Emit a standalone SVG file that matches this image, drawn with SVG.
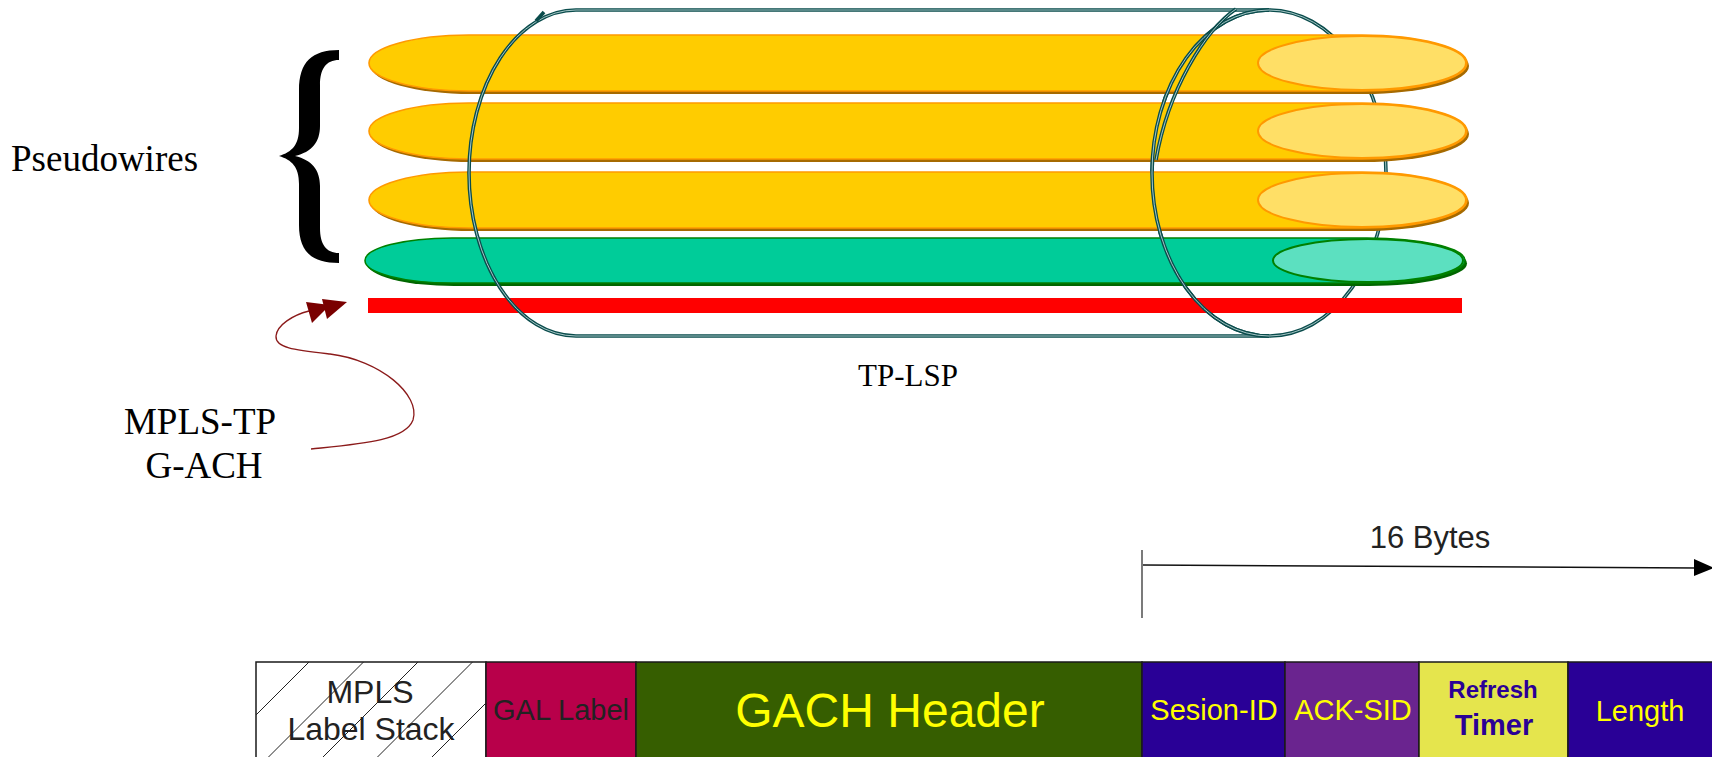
<svg xmlns="http://www.w3.org/2000/svg" width="1712" height="757" viewBox="0 0 1712 757">
<defs>
<style>
.pwY{fill:#FFCC00;stroke:#FF9900;stroke-width:1.6}
.pwYs{fill:#A66A00}
.capY{fill:#FFDF66;stroke:#FF9900;stroke-width:2}
.pwG{fill:#00CC99;stroke:#008000;stroke-width:1.6}
.pwGs{fill:#006600}
.capG{fill:#5CE0C0;stroke:#008000;stroke-width:2}
.dlo{fill:none;stroke:#0A4C4C;stroke-width:3.6}
.dli{fill:none;stroke:#CFE6E6;stroke-width:0.8}
.serif{font-family:"Liberation Serif","Times New Roman",serif;fill:#000}
.sans{font-family:"Liberation Sans",Arial,sans-serif}
.box{stroke:#1A1A1A;stroke-width:1.5}
.yel{fill:#FFFF00}
</style>
<clipPath id="hatchClip"><rect x="256" y="662" width="230" height="100"/></clipPath>
</defs>

<g id="lsp-back">
  <ellipse class="dlo" cx="1269" cy="173" rx="117" ry="163"/>
  <ellipse class="dli" cx="1269" cy="173" rx="117" ry="163"/>
</g>

<g id="pw1">
  <path class="pwYs" transform="translate(2,3)" d="M469,35 H1362 A105 28 0 0 1 1362,91 H469 A100 28 0 0 1 469,35 Z"/>
  <path class="pwY" d="M469,35 H1362 A105 28 0 0 1 1362,91 H469 A100 28 0 0 1 469,35 Z"/>
  <ellipse class="capY" cx="1362" cy="63" rx="104" ry="27"/>
</g>
<g id="pw2">
  <path class="pwYs" transform="translate(2,3)" d="M469,103 H1362 A105 28 0 0 1 1362,159 H469 A100 28 0 0 1 469,103 Z"/>
  <path class="pwY" d="M469,103 H1362 A105 28 0 0 1 1362,159 H469 A100 28 0 0 1 469,103 Z"/>
  <ellipse class="capY" cx="1362" cy="131" rx="104" ry="27"/>
</g>
<g id="pw3">
  <path class="pwYs" transform="translate(2,3)" d="M469,172 H1362 A105 28 0 0 1 1362,228 H469 A100 28 0 0 1 469,172 Z"/>
  <path class="pwY" d="M469,172 H1362 A105 28 0 0 1 1362,228 H469 A100 28 0 0 1 469,172 Z"/>
  <ellipse class="capY" cx="1362" cy="200" rx="104" ry="27"/>
</g>
<g id="gach-channel">
  <path class="pwGs" transform="translate(2,3)" d="M452,238 H1367 A98 22.5 0 0 1 1367,283 H452 A87 22.5 0 0 1 452,238 Z"/>
  <path class="pwG" d="M452,238 H1367 A98 22.5 0 0 1 1367,283 H452 A87 22.5 0 0 1 452,238 Z"/>
  <ellipse class="capG" cx="1368" cy="260.5" rx="95" ry="21.5"/>
</g>

<g id="lsp-line">
  <rect x="368" y="298" width="1094" height="15" fill="#FF0000"/>
</g>

<g id="lsp-front">
  <path class="dlo" d="M1269,10 H576 A107 163 0 0 0 576,336 H1269"/>
  <path class="dli" d="M1269,10 H576 A107 163 0 0 0 576,336 H1269"/>
  <path class="dlo" d="M1269,10 A117 163 0 0 0 1269,336"/>
  <path class="dli" d="M1269,10 A117 163 0 0 0 1269,336"/>
  <path class="dlo" d="M1236,9 C1205,30 1168,90 1156,160"/>
  <path class="dli" d="M1236,9 C1205,30 1168,90 1156,160"/>
  <path class="dlo" d="M536,21 L544,12"/>
</g>

<g id="connectors">
  <path d="M311,449 C360,444 405,441 413,420 C421,395 380,360 330,354 C295,350 275,348 276,336 C277,325 293,315 309,311" fill="none" stroke="#8B1A1A" stroke-width="1.3"/>
  <polygon points="306,302 312,323 330,305" fill="#7A0000"/>
  <polygon points="322,299 327,319 347,302" fill="#7A0000"/>
  <line x1="1142" y1="550" x2="1142" y2="618" stroke="#333" stroke-width="1.3"/>
  <line x1="1143" y1="565" x2="1696" y2="568" stroke="#111" stroke-width="1.5"/>
  <polygon points="1694,559 1714,568 1694,576" fill="#000"/>
</g>

<g id="labels">
  <path id="brace" d="M339,50 C312,50 299,62 299,90 L299,128 C299,145 292,152 279,156 C292,160 299,167 299,184 L299,225 C299,252 312,263 339,263 L339,253 C326,253 320,244 320,228 L320,186 C320,170 312,160 295,156 C312,152 320,142 320,126 L320,85 C320,69 326,60 339,60 Z" fill="#000"/>
  <text class="serif" x="11" y="171" font-size="37">Pseudowires</text>
  <text class="serif" x="200" y="434" font-size="37" text-anchor="middle">MPLS-TP</text>
  <text class="serif" x="204" y="478" font-size="37" text-anchor="middle">G-ACH</text>
  <text class="serif" x="908" y="386" font-size="31" text-anchor="middle">TP-LSP</text>
  <text class="sans" x="1430" y="548" font-size="31" text-anchor="middle" fill="#222">16 Bytes</text>
</g>

<g id="packet">
  <g id="mpls-stack">
    <rect class="box" x="256" y="662" width="230" height="100" fill="#FFFFFF"/>
    <g clip-path="url(#hatchClip)" stroke="#222" stroke-width="1">
      <line x1="254.5" y1="662" x2="154.5" y2="762"/>
      <line x1="309" y1="662" x2="209" y2="762"/>
      <line x1="363.5" y1="662" x2="263.5" y2="762"/>
      <line x1="418" y1="662" x2="318" y2="762"/>
      <line x1="472.5" y1="662" x2="372.5" y2="762"/>
      <line x1="527" y1="662" x2="427" y2="762"/>
      <line x1="581.5" y1="662" x2="481.5" y2="762"/>
    </g>
    <text class="sans" x="370" y="703" font-size="32" text-anchor="middle" fill="#222">MPLS</text>
    <text class="sans" x="371" y="740" font-size="32" text-anchor="middle" fill="#222">Label Stack</text>
  </g>
  <g id="gal">
    <rect class="box" x="486" y="662" width="150" height="100" fill="#B8004A"/>
    <text class="sans" x="561" y="720" font-size="29" text-anchor="middle" fill="#222">GAL Label</text>
  </g>
  <g id="gach">
    <rect class="box" x="636" y="662" width="506" height="100" fill="#365E00"/>
    <text class="sans yel" x="890" y="727" font-size="48" text-anchor="middle">GACH Header</text>
  </g>
  <g id="session-id">
    <rect class="box" x="1142" y="662" width="143" height="100" fill="#290096"/>
    <text class="sans yel" x="1214" y="720" font-size="29" text-anchor="middle">Sesion-ID</text>
  </g>
  <g id="ack-sid">
    <rect class="box" x="1285" y="662" width="134" height="100" fill="#6A248F"/>
    <text class="sans yel" x="1353" y="720" font-size="29" text-anchor="middle">ACK-SID</text>
  </g>
  <g id="refresh-timer">
    <rect class="box" x="1419" y="662" width="149" height="100" fill="#E5E54D"/>
    <text class="sans" x="1493" y="698" font-size="24" font-weight="bold" text-anchor="middle" fill="#2A0096">Refresh</text>
    <text class="sans" x="1494" y="735" font-size="29" font-weight="bold" text-anchor="middle" fill="#2A0096">Timer</text>
  </g>
  <g id="length">
    <rect class="box" x="1568" y="662" width="160" height="100" fill="#290096"/>
    <text class="sans yel" x="1640" y="721" font-size="29" text-anchor="middle">Length</text>
  </g>
</g>
</svg>
